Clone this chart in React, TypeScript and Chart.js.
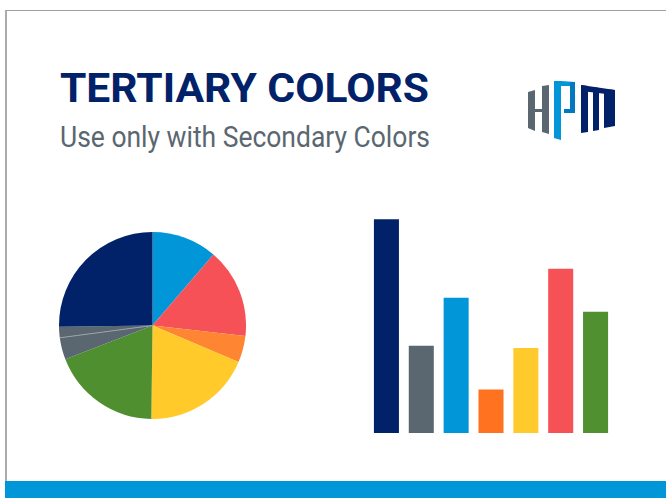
import React, { useEffect, useLayoutEffect, useRef } from "react";
import { Chart, registerables } from "chart.js";

Chart.register(...registerables);

// ---- Data ----
const pieLabels = ["Blue", "Red", "Orange", "Yellow", "Green", "Slate A", "Slate B", "Navy"];
const pieValues = [11.3, 15.5, 4.6, 18.8, 18.9, 3.8, 1.9, 25.2];
const pieColors = ["#0096d8", "#f65157", "#fe8532", "#ffca2a", "#4f8f30", "#5b6770", "#5b6770", "#012169"];

const barLabels = ["Navy", "Slate", "Blue", "Orange", "Yellow", "Red", "Green"];
const barValues = [4.9, 2.0, 3.1, 1.0, 1.95, 3.77, 2.78];
const barColors = ["#012169", "#5b6770", "#0096d8", "#ff7220", "#ffcb2c", "#f65157", "#509030"];

const titleText = "TERTIARY COLORS";
const subtitleText = "Use only with Secondary Colors";

// draws a faint divider at the start of the second slate slice
const slateDivider = {
  id: "slateDivider",
  afterDatasetsDraw(chart: any) {
    const arc: any = chart.getDatasetMeta(0).data[6];
    if (!arc) return;
    const { x, y, startAngle, outerRadius } = arc.getProps(["x", "y", "startAngle", "outerRadius"], true);
    const ctx = chart.ctx;
    ctx.save();
    ctx.strokeStyle = "#98a1a7";
    ctx.lineWidth = 1;
    ctx.beginPath();
    ctx.moveTo(x, y);
    ctx.lineTo(x + Math.cos(startAngle) * outerRadius, y + Math.sin(startAngle) * outerRadius);
    ctx.stroke();
    ctx.restore();
  },
};

function FitText({ text, width, style }: { text: string; width: number; style: React.CSSProperties }) {
  const ref = useRef<HTMLSpanElement>(null);
  useLayoutEffect(() => {
    const el = ref.current;
    if (!el) return;
    el.style.transform = "none";
    const w = el.getBoundingClientRect().width;
    if (w > 0) el.style.transform = `scaleX(${width / w})`;
  }, [text, width]);
  return (
    <span
      ref={ref}
      style={{ display: "inline-block", whiteSpace: "nowrap", transformOrigin: "0 0", ...style }}
    >
      {text}
    </span>
  );
}

function Logo() {
  return (
    <svg
      width={666}
      height={498}
      style={{ position: "absolute", left: 0, top: 0, pointerEvents: "none" }}
    >
      {/* H */}
      <polygon points="528,92 535,90 535,131 528,128" fill="#5b6770" />
      <polygon points="542,86 549,85 549,134 542,132" fill="#5b6770" />
      <polygon points="535,109 542,109 542,112 535,112" fill="#5b6770" />
      {/* P */}
      <polygon points="554,81 561,81 561,140 554,138" fill="#0096d8" />
      <polygon points="561,81 575,82 575,86 561,86" fill="#0096d8" />
      <polygon points="570,82 575,82 575,113 570,113" fill="#0079c2" />
      <polygon points="564,109 575,109 575,113 564,113" fill="#0079c2" />
      {/* M */}
      <polygon points="581,85 615,90 615,95 581,91" fill="#012169" />
      <polygon points="581,85 588,86 588,132 581,133" fill="#012169" />
      <polygon points="593,87 599,88 599,130 593,131" fill="#012169" />
      <polygon points="604,89 615,90 615,126 604,128" fill="#012169" />
    </svg>
  );
}

export default function App() {
  const pieRef = useRef<HTMLCanvasElement>(null);
  const barRef = useRef<HTMLCanvasElement>(null);

  useEffect(() => {
    const pie = new Chart(pieRef.current!, {
      type: "pie",
      data: {
        labels: pieLabels,
        datasets: [
          {
            data: pieValues,
            backgroundColor: pieColors,
            borderWidth: 0,
            hoverOffset: 0,
            offset: 0,
          },
        ],
      },
      options: {
        responsive: false,
        animation: false,
        layout: { padding: 0 },
        plugins: { legend: { display: false }, tooltip: { enabled: false } },
      },
      plugins: [slateDivider],
    });

    const bar = new Chart(barRef.current!, {
      type: "bar",
      data: {
        labels: barLabels,
        datasets: [
          {
            data: barValues,
            backgroundColor: barColors,
            borderWidth: 0,
            categoryPercentage: 1,
            barPercentage: 0.718,
          },
        ],
      },
      options: {
        responsive: false,
        animation: false,
        layout: { padding: 0 },
        plugins: { legend: { display: false }, tooltip: { enabled: false } },
        scales: {
          x: { display: false },
          y: { display: false, min: 0, max: 5 },
        },
      },
    });

    return () => {
      pie.destroy();
      bar.destroy();
    };
  }, []);

  return (
    <div
      style={{
        position: "absolute",
        left: 0,
        top: 0,
        width: 666,
        height: 498,
        overflow: "hidden",
        background: "#ffffff",
      }}
    >
      <div
        style={{
          position: "absolute",
          left: 5,
          top: 10,
          width: 700,
          height: 500,
          borderTop: "1px solid #9e9e9e",
          borderLeft: "2px solid #ababab",
          boxSizing: "border-box",
        }}
      />
      <div
        style={{ position: "absolute", left: 5, top: 481, width: 661, height: 17, background: "#0096d8" }}
      />
      <div style={{ position: "absolute", left: 60, top: 67.5, lineHeight: 1 }}>
        <FitText
          text={titleText}
          width={369}
          style={{ fontFamily: "Roboto", fontWeight: 700, fontSize: 41, lineHeight: 1, color: "#012169" }}
        />
      </div>
      <div style={{ position: "absolute", left: 60, top: 122, lineHeight: 1 }}>
        <FitText
          text={subtitleText}
          width={370}
          style={{ fontFamily: "Roboto", fontWeight: 400, fontSize: 30, lineHeight: 1, color: "#5b6770" }}
        />
      </div>
      <Logo />
      <canvas
        ref={pieRef}
        width={187}
        height={187}
        style={{ position: "absolute", left: 59, top: 232, width: 187, height: 187 }}
      />
      <canvas
        ref={barRef}
        width={244}
        height={218}
        style={{ position: "absolute", left: 369, top: 215, width: 244, height: 218 }}
      />
    </div>
  );
}
